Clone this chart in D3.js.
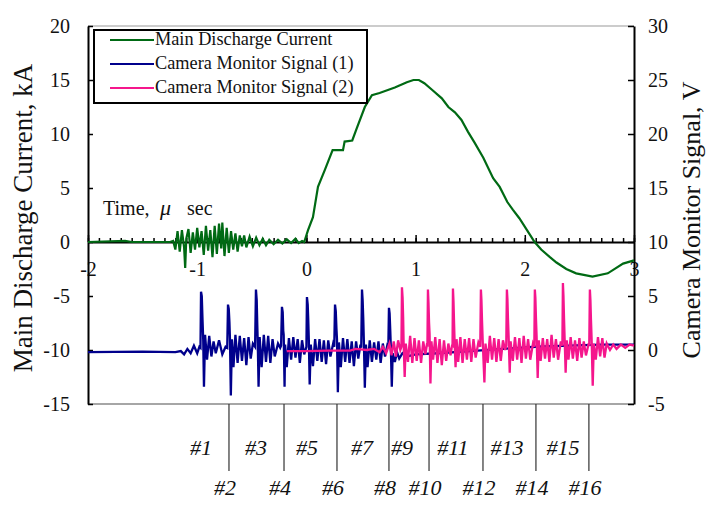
<!DOCTYPE html>
<html>
<head>
<meta charset="utf-8">
<script src="https://cdn.jsdelivr.net/npm/d3@7"></script>
<style>
  body { margin: 0; background: #fff; }
  svg text { font-family: "Liberation Serif", "Times New Roman", serif; fill: #111; }
  .axis path, .axis line { stroke: #000; }
</style>
</head>
<body>
<div id="chart"></div>
<script>
// Data: [time (us), value]
var currentKA = [
  [-2, 0], [-1.66, 0.1], [-1.6, 0], [-1.25, 0],
  [-1.22, 0.1], [-1.2, -0.7], [-1.18, 1.0], [-1.16, -0.9], [-1.14, 1.1], [-1.12, -0.5], [-1.11, -2.4],
  [-1.10, 0.3], [-1.08, 1.2], [-1.06, -1.0], [-1.04, 0.9], [-1.02, -0.7], [-1.0, 1.3], [-0.98, -0.5],
  [-0.96, 1.0], [-0.94, -1.2], [-0.92, 1.5], [-0.90, -0.8], [-0.88, 1.1], [-0.86, -1.4], [-0.84, 1.5],
  [-0.82, -1.1], [-0.80, 1.7], [-0.78, -0.6], [-0.77, 1.8], [-0.75, -1.3], [-0.73, 1.3], [-0.71, -1.0],
  [-0.69, 1.0], [-0.67, -0.7], [-0.65, 0.8], [-0.63, -0.9], [-0.61, 0.6], [-0.59, -0.4], [-0.57, 0.6],
  [-0.55, -0.5], [-0.52, 0.5], [-0.49, -0.4], [-0.46, 0.4], [-0.43, -0.3], [-0.40, 0.3], [-0.37, -0.3],
  [-0.34, 0.2], [-0.30, -0.2], [-0.26, 0.2], [-0.22, -0.15], [-0.18, 0.25], [-0.14, -0.1], [-0.10, 0.3],
  [-0.07, -0.1], [-0.04, 0.1], [-0.02, 0.0],
  [0.015, 1.1], [0.06, 2.3], [0.106, 5.1], [0.17, 6.7], [0.24, 8.5], [0.335, 8.5], [0.35, 9.3],
  [0.42, 9.4], [0.46, 10.5], [0.535, 12.5], [0.60, 13.6], [0.67, 13.8], [0.81, 14.3], [0.92, 14.8],
  [0.98, 15.0], [1.03, 15.0], [1.08, 14.7], [1.15, 14.1], [1.24, 13.3], [1.30, 12.5], [1.36, 12.0],
  [1.42, 11.3], [1.48, 10.2], [1.54, 9.2], [1.62, 7.8], [1.71, 5.9], [1.77, 5.1], [1.84, 3.7],
  [1.89, 3.0], [1.95, 2.2], [2.02, 1.1], [2.09, 0], [2.15, -0.7], [2.23, -1.4], [2.29, -1.9],
  [2.38, -2.5], [2.47, -2.9], [2.62, -3.2], [2.76, -2.9], [2.90, -2.0], [3.0, -1.7]
];

var signal1V = [
  [-2, -0.2], [-1.5, -0.15], [-1.2, -0.2], [-1.15, -0.1], [-1.12, -0.4], [-1.09, 0.1], [-1.06, -0.3],
  [-1.03, 0.4], [-1.0, -0.3], [-0.98, 0.3],
  [-0.97, 0.2], [-0.965, 5.4], [-0.958, 5.0], [-0.952, 3.0], [-0.945, 1.0], [-0.938, -3.4], [-0.928, 1.4], [-0.91, -0.9],
  [-0.89, 1.3], [-0.87, -0.6], [-0.85, 0.8], [-0.83, -0.3], [-0.80, 0.9], [-0.77, -0.4], [-0.74, 0.3],
  [-0.725, 0.2], [-0.718, 4.2], [-0.711, 3.8], [-0.705, 2.6], [-0.700, 1.0], [-0.692, -4.2], [-0.682, 1.0], [-0.668, -1.6],
  [-0.65, 1.4], [-0.63, -1.2], [-0.61, 1.3], [-0.59, -1.0], [-0.57, 1.1], [-0.55, -1.4], [-0.53, 1.2],
  [-0.51, -0.8], [-0.49, 0.6],
  [-0.47, 0.3], [-0.462, 5.6], [-0.455, 4.6], [-0.45, 2.4], [-0.445, 0.5], [-0.438, -3.4], [-0.428, 1.2], [-0.41, -1.6],
  [-0.39, 1.4], [-0.37, -1.1], [-0.35, 1.3], [-0.33, -1.2], [-0.31, 1.0], [-0.29, -0.6], [-0.26, 0.6],
  [-0.24, 0.2],
  [-0.232, 0.4], [-0.224, 4.0], [-0.217, 3.5], [-0.212, 1.8], [-0.208, 1.4], [-0.200, -3.4], [-0.195, 0.5], [-0.18, -1.6],
  [-0.16, 1.1], [-0.14, -0.9], [-0.12, 1.2], [-0.10, -0.7], [-0.08, 1.0], [-0.06, -1.2], [-0.04, 0.9],
  [-0.02, -0.4],
  [0.0, 0.3], [0.005, 4.9], [0.012, 4.2], [0.017, 2.8], [0.022, 1.0], [0.03, -3.2], [0.04, 0.5], [0.06, -1.5],
  [0.08, 1.0], [0.10, -1.0], [0.12, 1.0], [0.14, -1.1], [0.16, 0.9], [0.18, -1.3], [0.20, 0.9],
  [0.22, -0.6], [0.245, 0.6],
  [0.255, 0.3], [0.262, 4.2], [0.269, 3.6], [0.275, 2.0], [0.28, 1.0], [0.288, -3.9], [0.298, 0.7], [0.315, -1.6],
  [0.335, 1.1], [0.355, -1.1], [0.375, 1.0], [0.395, -1.2], [0.415, 0.8], [0.435, -1.5], [0.455, 0.8],
  [0.475, -0.8], [0.495, 0.5],
  [0.502, 0.2], [0.509, 5.6], [0.515, 4.6], [0.521, 2.8], [0.527, 0.5], [0.535, -3.5], [0.545, 0.5], [0.56, -1.6],
  [0.58, 0.9], [0.60, -1.1], [0.62, 0.7], [0.64, -0.9], [0.66, 0.8], [0.68, -1.2], [0.70, 0.6],
  [0.72, -0.6], [0.74, 0.4],
  [0.75, 0.2], [0.756, 3.9], [0.762, 3.4], [0.768, 1.8], [0.773, 0.3], [0.782, -3.4], [0.79, -0.3], [0.81, -1.1],
  [0.83, -0.2], [0.85, -0.8], [0.88, -0.3], [0.92, -0.6],
  [1.0, -0.4], [1.2, -0.3], [1.5, -0.1], [1.8, 0.1], [2.1, 0.3], [2.4, 0.4], [2.7, 0.5], [3.0, 0.5]
];

var signal2V = [
  [-0.18, -0.1], [0.0, -0.1], [0.2, -0.05], [0.4, -0.05], [0.45, 0.1], [0.5, 0.05], [0.55, 0.0],
  [0.62, 0.1], [0.67, -0.2], [0.70, 0.3], [0.73, -0.3], [0.76, 0.6], [0.78, -0.5], [0.80, 0.8],
  [0.82, -0.6], [0.84, 0.9], [0.86, 0.0],
  [0.87, 0.3], [0.875, 5.8], [0.881, 4.8], [0.886, 3.0], [0.89, 0.8], [0.9, -2.5], [0.91, 0.6], [0.93, -1.1],
  [0.95, 1.3], [0.97, -1.2], [0.99, 1.1], [1.01, -1.0], [1.03, 0.9], [1.05, -1.2], [1.07, 0.8],
  [1.09, -0.4], [1.105, 0.6],
  [1.108, 0.3], [1.113, 5.6], [1.118, 4.4], [1.123, 2.6], [1.128, 1.5], [1.136, -3.1], [1.145, 0.8], [1.16, -0.9],
  [1.18, 1.2], [1.20, -1.2], [1.22, 1.0], [1.24, -1.4], [1.26, 0.9], [1.28, -1.0], [1.30, 0.6],
  [1.32, -0.5], [1.335, 0.5],
  [1.338, 0.2], [1.342, 5.7], [1.347, 4.5], [1.352, 2.6], [1.358, 0.5], [1.366, -1.6], [1.375, 1.0], [1.39, -1.1],
  [1.41, 1.2], [1.43, -1.2], [1.45, 1.0], [1.47, -0.9], [1.49, 1.1], [1.51, -1.1], [1.53, 1.0],
  [1.55, -0.7], [1.575, 0.7],
  [1.592, 0.3], [1.598, 5.6], [1.603, 4.6], [1.608, 2.8], [1.614, 1.0], [1.63, -3.0], [1.64, 0.6], [1.66, -1.2],
  [1.68, 1.3], [1.70, -0.9], [1.72, 1.1], [1.74, -1.1], [1.76, 1.0], [1.78, -1.0], [1.80, 0.9],
  [1.82, 0.0],
  [1.83, 0.4], [1.836, 5.6], [1.841, 4.7], [1.846, 2.9], [1.852, 1.2], [1.862, -2.1], [1.87, 0.8], [1.89, -1.0],
  [1.91, 1.2], [1.93, -0.9], [1.95, 1.1], [1.97, -1.2], [1.99, 1.3], [2.01, -0.8], [2.03, 1.0],
  [2.05, -0.9], [2.075, 0.6],
  [2.087, 0.3], [2.092, 5.6], [2.097, 4.8], [2.102, 3.0], [2.108, 1.3], [2.118, -2.6], [2.128, 0.9], [2.145, -1.0],
  [2.165, 1.1], [2.185, -0.8], [2.205, 1.0], [2.225, -1.1], [2.245, 1.4], [2.265, -0.7], [2.285, 1.0],
  [2.305, -0.9], [2.33, 0.8],
  [2.344, 0.4], [2.349, 6.2], [2.354, 5.0], [2.359, 3.0], [2.365, 1.0], [2.374, -2.1], [2.384, 0.9], [2.40, -0.9],
  [2.42, 1.2], [2.44, -0.8], [2.46, 0.9], [2.48, -1.0], [2.50, 1.1], [2.52, -0.7], [2.54, 0.8],
  [2.56, -0.5], [2.585, 0.6],
  [2.59, 0.4], [2.596, 5.6], [2.601, 4.6], [2.606, 2.8], [2.612, 1.0], [2.622, -3.3], [2.632, 0.6], [2.65, -0.9],
  [2.67, 1.2], [2.69, -0.6], [2.71, 1.1], [2.73, -0.7], [2.75, 0.6], [2.78, 0.0], [2.81, 0.5],
  [2.84, 0.1], [2.88, 0.5], [2.92, 0.2], [2.96, 0.5], [3.0, 0.4]
];

// camera frame times (us), #1 .. #16
var frameTimes = [-0.965, -0.709, -0.462, -0.205, 0.005, 0.280, 0.509, 0.756,
                  0.875, 1.123, 1.342, 1.617, 1.836, 2.102, 2.349, 2.587];

var leftTicks = [-15, -10, -5, 0, 5, 10, 15, 20];
var rightTicks = [-5, 0, 5, 10, 15, 20, 25, 30];
var timeTicks = [-2, -1, 0, 1, 2, 3];
var seriesNames = ["Main Discharge Current", "Camera Monitor Signal (1)", "Camera Monitor Signal (2)"];
var seriesColors = ["#006a14", "#00008c", "#f5168c"];

var serif = '"Liberation Serif", "Times New Roman", serif';
var width = 715, height = 506;
var margin = { top: 26, right: 81, bottom: 102, left: 88 };

var svg = d3.select("#chart").append("svg")
    .attr("width", width)
    .attr("height", height);

var x = d3.scaleLinear().domain([-2, 3]).range([margin.left, width - margin.right]);
var yL = d3.scaleLinear().domain([-15, 20]).range([height - margin.bottom, margin.top]);
var yR = d3.scaleLinear().domain([-5, 30]).range([height - margin.bottom, margin.top]);

// top / bottom frame lines (grey)
svg.append("line")
    .attr("x1", x(-2)).attr("x2", x(3))
    .attr("y1", yL(20)).attr("y2", yL(20))
    .attr("stroke", "#999").attr("stroke-width", 1.2);
svg.append("line")
    .attr("x1", x(-2)).attr("x2", x(3))
    .attr("y1", yL(-15)).attr("y2", yL(-15))
    .attr("stroke", "#888").attr("stroke-width", 1.5);

// time axis at zero current
var minorAxis = d3.axisBottom(x)
    .tickValues(d3.range(-20, 31).map(d => d / 10))
    .tickSize(-4).tickSizeOuter(0).tickFormat("");
svg.append("g").attr("class", "axis")
    .attr("transform", "translate(0," + yL(0) + ")")
    .call(minorAxis)
    .call(g => g.selectAll("line").attr("stroke-width", 1.5))
    .call(g => g.select(".domain").attr("stroke-width", 2));

var timeAxis = d3.axisBottom(x)
    .tickValues(timeTicks)
    .tickSize(-7).tickSizeOuter(0).tickPadding(20)
    .tickFormat(d => String(d));
svg.append("g").attr("class", "axis")
    .attr("transform", "translate(0," + yL(0) + ")")
    .call(timeAxis)
    .call(g => g.select(".domain").remove())
    .call(g => g.selectAll("line").attr("stroke-width", 1.5))
    .call(g => g.selectAll("text").attr("font-size", 20).attr("font-family", serif));

// left and right axes
svg.append("g").attr("class", "axis")
    .attr("transform", "translate(" + x(-2) + ",0)")
    .call(d3.axisLeft(yL).tickValues(leftTicks).tickSize(-5).tickSizeOuter(0).tickPadding(18)
        .tickFormat(d => String(d)))
    .call(g => g.select(".domain").attr("stroke-width", 2))
    .call(g => g.selectAll("line").attr("stroke-width", 1.5))
    .call(g => g.selectAll("text").attr("font-size", 20).attr("font-family", serif));

svg.append("g").attr("class", "axis")
    .attr("transform", "translate(" + x(3) + ",0)")
    .call(d3.axisRight(yR).tickValues(rightTicks).tickSize(-6).tickSizeOuter(0).tickPadding(14)
        .tickFormat(d => String(d)))
    .call(g => g.select(".domain").attr("stroke-width", 2))
    .call(g => g.selectAll("line").attr("stroke-width", 1.5))
    .call(g => g.selectAll("text").attr("font-size", 20).attr("font-family", serif));

// lines
var lineL = d3.line().x(d => x(d[0])).y(d => yL(d[1]));
var lineR = d3.line().x(d => x(d[0])).y(d => yR(d[1]));

svg.append("path").datum(currentKA)
    .attr("d", lineL).attr("fill", "none")
    .attr("stroke", seriesColors[0]).attr("stroke-width", 2.2);
svg.append("path").datum(signal1V)
    .attr("d", lineR).attr("fill", "none")
    .attr("stroke", seriesColors[1]).attr("stroke-width", 2.3);
svg.append("path").datum(signal2V)
    .attr("d", lineR).attr("fill", "none")
    .attr("stroke", seriesColors[2]).attr("stroke-width", 2.3);

// legend
var legend = svg.append("g");
legend.append("rect")
    .attr("x", 94).attr("y", 30).attr("width", 273).attr("height", 73)
    .attr("fill", "#fff").attr("stroke", "#000").attr("stroke-width", 2);
seriesNames.forEach((name, i) => {
    var ly = 40 + i * 24;
    legend.append("line")
        .attr("x1", 110).attr("x2", 154).attr("y1", ly).attr("y2", ly)
        .attr("stroke", seriesColors[i]).attr("stroke-width", 2);
    legend.append("text")
        .attr("x", 155).attr("y", ly + 5)
        .attr("font-size", 18.3)
        .text(name);
});

// time label
var tl = svg.append("text").attr("x", 103).attr("y", 215).attr("font-size", 20);
tl.append("tspan").text("Time,");
tl.append("tspan").attr("x", 160).attr("font-style", "italic").attr("font-size", 22).text("\u03bc");
tl.append("tspan").attr("x", 187).text("sec");

// axis titles
svg.append("text")
    .attr("transform", "translate(32,218) rotate(-90)")
    .attr("text-anchor", "middle")
    .attr("font-size", 27)
    .text("Main Discharge Current, kA");

svg.append("text")
    .attr("transform", "translate(700,220) rotate(-90)")
    .attr("text-anchor", "middle")
    .attr("font-size", 26)
    .text("Camera Monitor Signal, V");

// camera frame markers
var yBottom = yL(-15);
frameTimes.forEach((t, i) => {
    var n = i + 1;
    if (n % 2 === 0) {
        svg.append("line")
            .attr("x1", x(t)).attr("x2", x(t))
            .attr("y1", yBottom).attr("y2", 471)
            .attr("stroke", "#333").attr("stroke-width", 1.2);
        svg.append("text")
            .attr("x", x(t) - 4).attr("y", 495)
            .attr("text-anchor", "middle")
            .attr("font-style", "italic").attr("font-size", 22)
            .text("#" + n);
    } else {
        svg.append("text")
            .attr("x", x(t)).attr("y", 455)
            .attr("text-anchor", "middle")
            .attr("font-style", "italic").attr("font-size", 22)
            .text("#" + n);
    }
});
</script>
</body>
</html>
